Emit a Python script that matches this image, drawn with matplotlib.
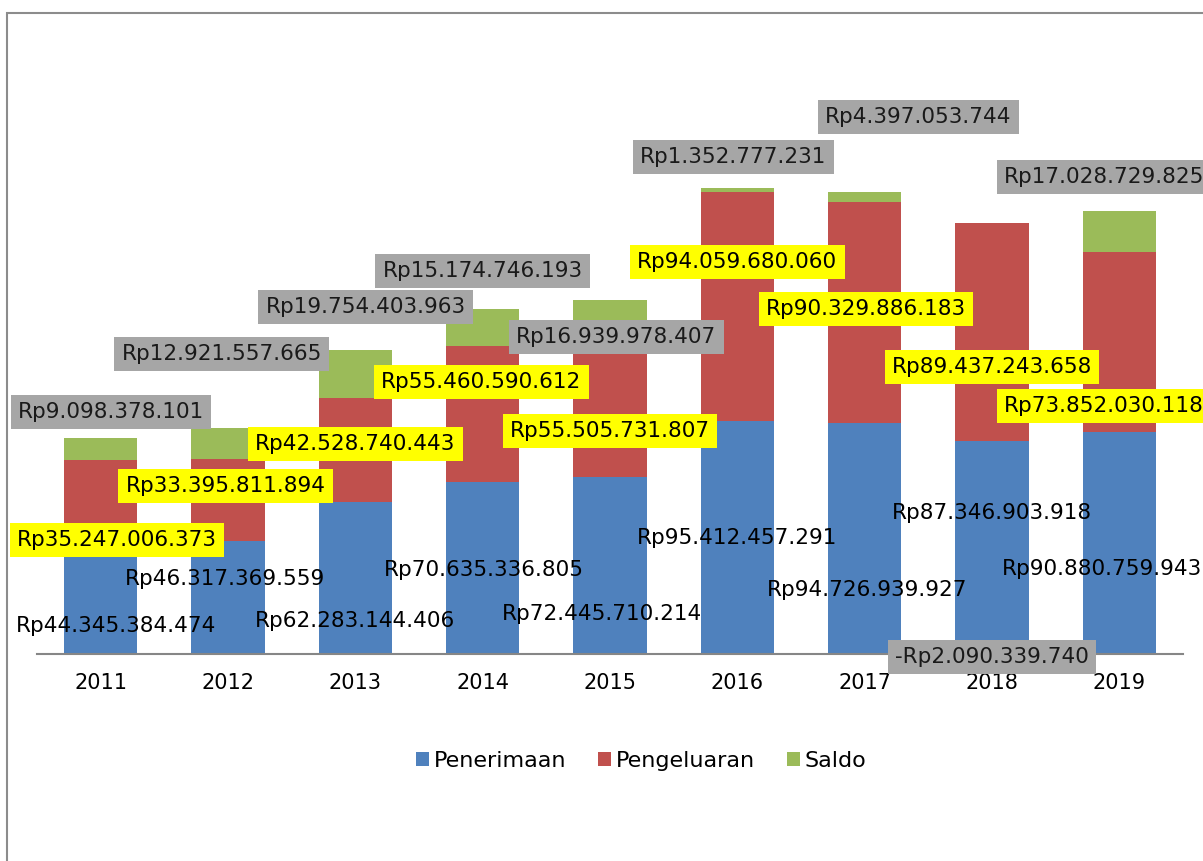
import matplotlib.pyplot as plt
from matplotlib.patches import Rectangle

# data (rupiah)
tahun = ['2011', '2012', '2013', '2014', '2015', '2016', '2017', '2018', '2019']
penerimaan = [44345384474, 46317369559, 62283144406, 70635336805, 72445710214,
              95412457291, 94726939927, 87346903918, 90880759943]
pengeluaran = [35247006373, 33395811894, 42528740443, 55460590612, 55505731807,
               94059680060, 90329886183, 89437243658, 73852030118]
saldo = [9098378101, 12921557665, 19754403963, 15174746193, 16939978407,
         1352777231, 4397053744, -2090339740, 17028729825]

# label placement (x offset in categories, y in milyar rupiah), as in the original sheet
pos_penerimaan = [(0.12, 11.5), (-0.02, 30.7), (0.0, 13.5), (0.01, 34.4), (-0.06, 16.4),
                  (0.0, 47.5), (0.02, 26.2), (0.0, 57.8), (-0.14, 34.8)]
pos_pengeluaran = [(0.13, 46.7), (-0.02, 68.9), (0.0, 86.1), (-0.01, 111.5), (0.0, 91.4),
                   (0.0, 160.7), (0.01, 141.4), (0.0, 117.6), (-0.12, 101.6)]
pos_saldo = [(0.08, 99.2), (-0.05, 123.0), (0.08, 142.2), (0.0, 157.0), (0.05, 129.9),
             (-0.03, 203.7), (0.42, 220.1), (0.0, -1.2), (-0.12, 195.5)]

biru, merah, hijau = '#4F81BD', '#C0504D', '#9BBB59'


def rp(v):
    s = 'Rp' + f'{abs(v):,}'.replace(',', '.')
    return '-' + s if v < 0 else s


plt.rcParams['font.family'] = 'DejaVu Sans'

fig = plt.figure(figsize=(12.03, 8.61), dpi=100)
ax = fig.add_axes([37 / 1203, 207 / 861, 1146 / 1203, 610 / 861])

x = list(range(len(tahun)))
p = [v / 1e9 for v in penerimaan]
k = [v / 1e9 for v in pengeluaran]
s = [v / 1e9 for v in saldo]
bawah_s = [a + b if c >= 0 else 0 for a, b, c in zip(p, k, s)]

w = 0.575
ax.bar(x, p, w, color=biru, label='Penerimaan', zorder=2)
ax.bar(x, k, w, bottom=p, color=merah, label='Pengeluaran', zorder=2)
ax.bar(x, s, w, bottom=bawah_s, color=hijau, label='Saldo', zorder=2)

ax.set_xlim(-0.5, len(tahun) - 0.5)
ax.set_ylim(0, 250)

fs = 15.5
for i in x:
    dx, y = pos_penerimaan[i]
    ax.text(i + dx, y, rp(penerimaan[i]), ha='center', va='center', fontsize=fs,
            color='black', zorder=5)
    dx, y = pos_pengeluaran[i]
    ax.text(i + dx, y, rp(pengeluaran[i]), ha='center', va='center', fontsize=fs,
            color='black', zorder=5,
            bbox=dict(boxstyle='square,pad=0.33', fc='#FFFF00', ec='none'))
    dx, y = pos_saldo[i]
    ax.text(i + dx, y, rp(saldo[i]), ha='center', va='center', fontsize=fs,
            color='#1a1a1a', zorder=5,
            bbox=dict(boxstyle='square,pad=0.33', fc='#A6A6A6', ec='none'))

ax.set_xticks(x)
ax.set_xticklabels(tahun, fontsize=15)
ax.tick_params(axis='x', length=0, pad=14)
ax.set_yticks([])
for side in ['top', 'right', 'left']:
    ax.spines[side].set_visible(False)
ax.spines['bottom'].set_color('#868686')
ax.spines['bottom'].set_linewidth(1.5)
ax.spines['bottom'].set_zorder(3)

fig.legend(loc='center', bbox_to_anchor=(641 / 1203, 1 - 761 / 861), ncol=3,
           frameon=False, fontsize=16, handlelength=0.6, handleheight=0.6,
           handletextpad=0.18, columnspacing=1.45)

# outer chart frame (cut off at right and bottom)
fig.patches.append(Rectangle((7 / 1203, -0.1), 1.5, 1 - 13 / 861 + 0.1, fill=False,
                             ec='#8c8c8c', lw=1.5, transform=fig.transFigure))

fig.savefig('out.png', dpi=100)
